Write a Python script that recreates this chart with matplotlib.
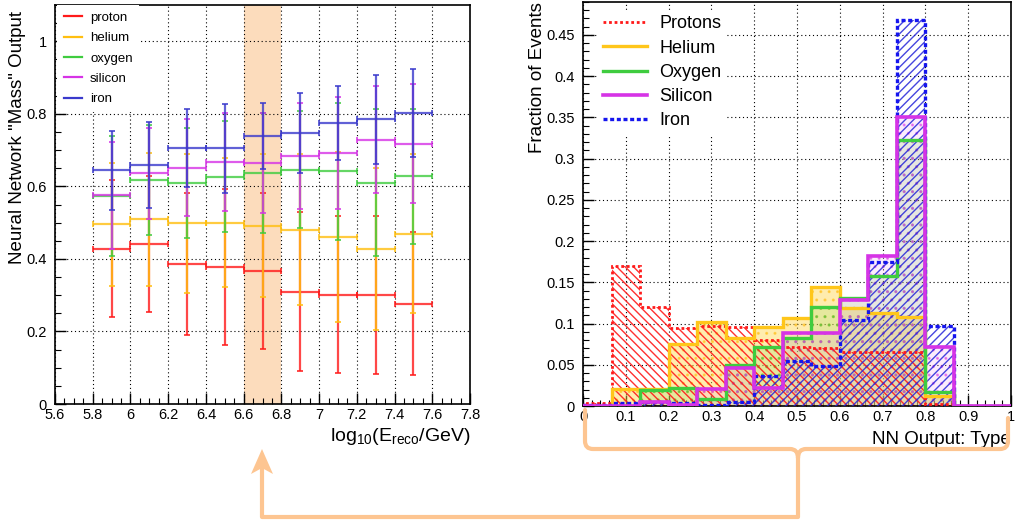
import numpy as np
import matplotlib
matplotlib.use("Agg")
import matplotlib.pyplot as plt
from matplotlib.ticker import MultipleLocator, FormatStrFormatter
from matplotlib.path import Path
from matplotlib.patches import PathPatch, Polygon

plt.rcParams['font.family'] = ['Liberation Sans', 'DejaVu Sans']
plt.rcParams['mathtext.fontset'] = 'custom'
plt.rcParams['mathtext.rm'] = 'Liberation Sans'
plt.rcParams['mathtext.it'] = 'Liberation Sans'
plt.rcParams['hatch.linewidth'] = 1.0

# ---- left panel: NN "mass" output vs reconstructed energy
e_centers = [5.9, 6.1, 6.3, 6.5, 6.7, 6.9, 7.1, 7.3, 7.5]
e_halfwidth = 0.1
proton_mean = [0.428, 0.441, 0.387, 0.377, 0.367, 0.310, 0.301, 0.301, 0.276]
proton_err = [0.189, 0.187, 0.196, 0.215, 0.216, 0.219, 0.216, 0.218, 0.197]
helium_mean = [0.495, 0.509, 0.498, 0.500, 0.492, 0.481, 0.460, 0.427, 0.470]
helium_err = [0.170, 0.184, 0.191, 0.178, 0.197, 0.207, 0.235, 0.224, 0.220]
oxygen_mean = [0.573, 0.617, 0.610, 0.627, 0.636, 0.646, 0.641, 0.610, 0.628]
oxygen_err = [0.165, 0.151, 0.152, 0.153, 0.165, 0.161, 0.189, 0.202, 0.186]
silicon_mean = [0.575, 0.636, 0.652, 0.668, 0.665, 0.683, 0.692, 0.729, 0.717]
silicon_err = [0.147, 0.125, 0.134, 0.135, 0.138, 0.146, 0.154, 0.148, 0.164]
iron_mean = [0.644, 0.659, 0.705, 0.705, 0.739, 0.748, 0.776, 0.785, 0.803]
iron_err = [0.110, 0.119, 0.107, 0.123, 0.092, 0.110, 0.102, 0.122, 0.121]
band = (6.6, 6.8)

# ---- right panel: NN type output histograms (15 bins on [0,1])
edges = np.linspace(0, 1, 16)
protons = [0.004, 0.170, 0.120, 0.094, 0.097, 0.096, 0.080, 0.072, 0.070, 0.066, 0.066, 0.066, 0.002, 0, 0]
helium = [0, 0.021, 0.021, 0.075, 0.102, 0.082, 0.096, 0.107, 0.144, 0.119, 0.113, 0.108, 0.012, 0, 0]
oxygen = [0, 0, 0.019, 0.022, 0.008, 0.050, 0.072, 0.082, 0.120, 0.131, 0.158, 0.323, 0.017, 0, 0]
silicon = [0, 0, 0.005, 0.001, 0.021, 0.046, 0.022, 0.088, 0.088, 0.128, 0.182, 0.351, 0.071, 0, 0]
iron = [0.001, 0.004, 0.005, 0.004, 0.001, 0.005, 0.036, 0.054, 0.048, 0.104, 0.175, 0.468, 0.097, 0, 0]

c_p = '#ff1a1a'
c_he = '#ffc61a'
c_o = '#3fcc3f'
c_si = '#d633e6'
c_fe = '#2d2dcc'

fig = plt.figure(figsize=(10.15, 5.25), dpi=100)

def root_style(ax):
    ax.tick_params(which='both', direction='in', top=False, right=False, labelsize=10.5)
    ax.tick_params(axis='y', pad=6)
    ax.tick_params(axis='x', pad=3)
    ax.tick_params(which='major', length=8, width=1)
    ax.tick_params(which='minor', length=4, width=0.8)
    ax.grid(True, which='major', color='black', linestyle=(0, (1, 2.5)), linewidth=0.8)
    ax.set_axisbelow(True)
    for s in ax.spines.values():
        s.set_linewidth(1.2)

# left
ax1 = fig.add_axes([55/1015, 1-404/525, 415/1015, 399/525])
root_style(ax1)
ax1.axvspan(*band, color='#fcdcbc', lw=0, zorder=0.5)
series = [('proton', proton_mean, proton_err, c_p),
          ('helium', helium_mean, helium_err, '#ffbf10'),
          ('oxygen', oxygen_mean, oxygen_err, c_o),
          ('silicon', silicon_mean, silicon_err, c_si),
          ('iron', iron_mean, iron_err, '#3a3acc')]
for name, m, e, c in series:
    ax1.errorbar(e_centers, m, xerr=e_halfwidth, yerr=e, fmt='none', ecolor=c,
                 elinewidth=1.6, capsize=2.5, capthick=1.4, alpha=0.8, zorder=3)
    ax1.plot([], [], color=c, lw=1.6, label=name)
ax1.set_xlim(5.6, 7.8)
ax1.set_ylim(0, 1.1)
ax1.xaxis.set_major_locator(MultipleLocator(0.2))
ax1.xaxis.set_minor_locator(MultipleLocator(0.05))
ax1.yaxis.set_major_locator(MultipleLocator(0.2))
ax1.yaxis.set_minor_locator(MultipleLocator(0.05))
ax1.xaxis.set_major_formatter(FormatStrFormatter('%g'))
ax1.yaxis.set_major_formatter(FormatStrFormatter('%g'))
ax1.set_xlabel(r'log$_{10}$(E$_{reco}$/GeV)', loc='right', fontsize=14, labelpad=3)
ax1.set_ylabel('Neural Network "Mass" Output', loc='top', fontsize=13.5, labelpad=0)
ax1.yaxis.label.set_y(0.985)
leg1 = ax1.legend(loc='upper left', fontsize=9.5, frameon=True, fancybox=False,
                  handlelength=1.4, labelspacing=0.62, borderaxespad=0.0,
                  borderpad=0.5, handletextpad=0.6, bbox_to_anchor=(0.005, 1.0))
leg1.get_frame().set_edgecolor('none')
leg1.get_frame().set_facecolor('white')
leg1.get_frame().set_alpha(1)
leg1.set_zorder(5)

# right
ax2 = fig.add_axes([583/1015, 1-406/525, 428/1015, 404/525])
root_style(ax2)
centers = (edges[:-1] + edges[1:]) / 2
w = edges[1] - edges[0]
# translucent dotted fills first, line hatches above them
ax2.bar(centers, helium, width=w, facecolor=(1.0, 0.84, 0.3, 0.45),
        edgecolor=(1.0, 0.75, 0.1, 0.6), hatch='..', linewidth=0, zorder=2)
ax2.bar(centers, oxygen, width=w, facecolor=(0.5, 0.85, 0.35, 0.2),
        edgecolor=(0.25, 0.75, 0.25, 0.5), hatch='..', linewidth=0, zorder=2.1)
ax2.bar(centers, silicon, width=w, facecolor=(0.92, 0.6, 0.95, 0.18),
        edgecolor=(0.85, 0.2, 0.9, 0.5), hatch='..', linewidth=0, zorder=2.2)
ax2.bar(centers, protons, width=w, facecolor='none', edgecolor=(1.0, 0.1, 0.1, 0.9),
        hatch='\\\\\\\\', linewidth=0, zorder=2.5)
ax2.bar(centers, iron, width=w, facecolor='none', edgecolor=(0.15, 0.15, 0.85, 0.85),
        hatch='////', linewidth=0, zorder=2.6)
ax2.stairs(protons, edges, color=c_p, lw=2.0, linestyle=(0, (1, 1)), zorder=4, label='Protons')
ax2.stairs(helium, edges, color=c_he, lw=2.4, zorder=4, label='Helium')
ax2.stairs(oxygen, edges, color=c_o, lw=2.4, zorder=4, label='Oxygen')
ax2.stairs(iron, edges, color='#1515ee', lw=2.4, linestyle=(0, (1.2, 0.8)), zorder=4)
ax2.stairs(silicon, edges, color=c_si, lw=2.6, zorder=4.5, label='Silicon')
ax2.plot([], [], color='#1515ee', lw=2.4, linestyle=(0, (1.2, 0.8)), label='Iron')
ax2.set_xlim(0, 1)
ax2.set_ylim(0, 0.49)
ax2.xaxis.set_major_locator(MultipleLocator(0.1))
ax2.xaxis.set_minor_locator(MultipleLocator(0.02))
ax2.yaxis.set_major_locator(MultipleLocator(0.05))
ax2.yaxis.set_minor_locator(MultipleLocator(0.01))
ax2.xaxis.set_major_formatter(FormatStrFormatter('%g'))
ax2.yaxis.set_major_formatter(FormatStrFormatter('%g'))
ax2.set_xlabel('NN Output: Type', loc='right', fontsize=13.5, labelpad=5)
ax2.set_ylabel('Fraction of Events', loc='top', fontsize=13.5, labelpad=0)
leg2 = ax2.legend(loc='upper left', fontsize=13, frameon=True, fancybox=False,
                  handlelength=2.4, labelspacing=0.4, borderaxespad=0.0,
                  borderpad=0.3, handletextpad=0.7, bbox_to_anchor=(0.035, 0.98))
leg2.get_frame().set_edgecolor('none')
leg2.get_frame().set_facecolor('white')
leg2.get_frame().set_alpha(1)
leg2.set_zorder(5)

# connector bracket + arrow in pixel coordinates
ov = fig.add_axes([0, 0, 1, 1])
ov.set_xlim(0, 1015)
ov.set_ylim(525, 0)
ov.axis('off')
ov.patch.set_alpha(0)
arrow_col = '#fdc591'
M, L, C = Path.MOVETO, Path.LINETO, Path.CURVE3
verts = [(585, 410), (585, 441), (585, 449), (593, 449), (790, 449), (798, 449), (798, 458),
         (798, 449), (806, 449), (1000, 449), (1008, 449), (1008, 441), (1008, 418)]
codes = [M, L, C, C, L, C, C, C, C, L, C, C, L]
ov.add_patch(PathPatch(Path(verts, codes), fill=False, edgecolor=arrow_col, lw=3,
                       capstyle='round', joinstyle='round'))
ov.plot([798, 798, 262, 262], [455, 517, 517, 468], color=arrow_col, lw=3,
        solid_joinstyle='round', solid_capstyle='butt')
ov.add_patch(Polygon([(251, 474), (262, 449), (273, 474), (262, 468)], closed=True,
                     facecolor=arrow_col, edgecolor='none'))

fig.savefig('out.png', dpi=100)
